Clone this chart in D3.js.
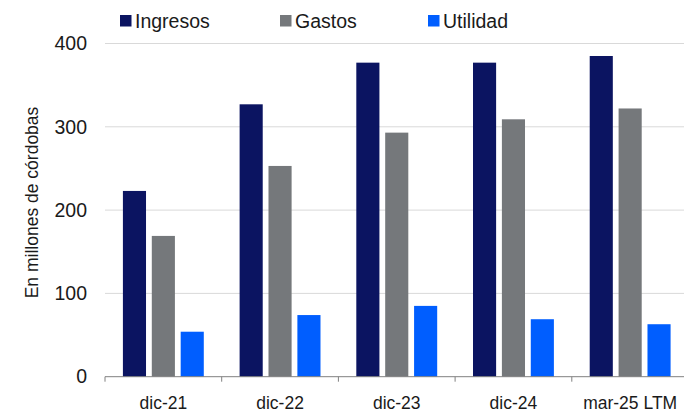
<!DOCTYPE html>
<html>
<head>
<meta charset="utf-8">
<script src="https://cdn.jsdelivr.net/npm/d3@7"></script>
<style>
  html, body { margin: 0; padding: 0; background: #fff; }
  svg { display: block; }
  text { font-family: "Liberation Sans", Arial, sans-serif; fill: #1a1a1a; }
</style>
</head>
<body>
<svg id="chart" width="684" height="413"></svg>
<script>
const categories = ["dic-21", "dic-22", "dic-23", "dic-24", "mar-25 LTM"];
const seriesNames = ["Ingresos", "Gastos", "Utilidad"];
const ingresos = [223, 327, 377, 377, 385];
const gastos = [169, 253, 293, 309, 322];
const utilidad = [54, 74, 85, 69, 63];
const yTicks = [0, 100, 200, 300, 400];
const colors = ["#0b1461", "#75787b", "#005eff"];

const seriesValues = [ingresos, gastos, utilidad];
const rows = categories.map((c, i) => ({
  cat: c,
  vals: seriesNames.map((s, j) => ({ key: s, value: seriesValues[j][i] }))
}));

const svg = d3.select("#chart");
const mLeft = 105, mRight = 688.5, mTop = 43.5, mBottom = 376.7;

const x0 = d3.scaleBand().domain(categories).range([mLeft, mRight]).padding(0);
const x1 = d3.scaleBand().domain(seriesNames).range([0, x0.bandwidth()])
  .paddingInner(0.2).paddingOuter(0.62);
const y = d3.scaleLinear().domain([0, 400]).range([mBottom, mTop]);
const color = d3.scaleOrdinal().domain(seriesNames).range(colors);

// gridlines
svg.append("g")
  .selectAll("line")
  .data(yTicks.filter(d => d > 0))
  .join("line")
  .attr("x1", mLeft).attr("x2", 684)
  .attr("y1", d => y(d)).attr("y2", d => y(d))
  .attr("stroke", "#d9d9d9").attr("stroke-width", 1);

// bars
svg.append("g")
  .selectAll("g")
  .data(rows)
  .join("g")
  .attr("transform", d => `translate(${x0(d.cat)},0)`)
  .selectAll("rect")
  .data(d => d.vals)
  .join("rect")
  .attr("x", d => x1(d.key))
  .attr("width", x1.bandwidth())
  .attr("y", d => y(d.value))
  .attr("height", d => y(0) - y(d.value))
  .attr("fill", d => color(d.key));

// y axis labels
const yAxis = d3.axisLeft(y).tickValues(yTicks).tickSize(0).tickPadding(18);
const gy = svg.append("g").attr("transform", `translate(${mLeft},0)`).call(yAxis);
gy.select(".domain").remove();
gy.selectAll("text").attr("font-size", 19.5).attr("fill", "#1a1a1a")
  .attr("font-family", "Liberation Sans, Arial, sans-serif");

// x axis
const xAxis = d3.axisBottom(x0).tickSize(0).tickPadding(20);
const gx = svg.append("g").attr("transform", `translate(0,${mBottom})`).call(xAxis);
gx.select(".domain").attr("stroke", "#808080").attr("d", `M${mLeft},0H684`);
gx.selectAll(".tick line").remove();
gx.selectAll("text").attr("font-size", 17.5).attr("fill", "#1a1a1a")
  .attr("font-family", "Liberation Sans, Arial, sans-serif");
// category separators
svg.append("g")
  .selectAll("line")
  .data(categories)
  .join("line")
  .attr("x1", d => x0(d)).attr("x2", d => x0(d))
  .attr("y1", mBottom).attr("y2", mBottom + 5)
  .attr("stroke", "#808080").attr("stroke-width", 1);

// y title
svg.append("text")
  .attr("transform", `translate(38,${(105 + 300) / 2}) rotate(-90)`)
  .attr("text-anchor", "middle")
  .attr("font-size", 17.5)
  .text("En millones de córdobas");

// legend
const legendX = [120, 280, 428];
const lg = svg.append("g")
  .selectAll("g")
  .data(seriesNames)
  .join("g")
  .attr("transform", (d, i) => `translate(${legendX[i]},15)`);
lg.append("rect").attr("width", 11.5).attr("height", 11.5).attr("fill", d => color(d));
lg.append("text").attr("x", 15).attr("y", 12.7).attr("font-size", 19.5)
  .attr("font-family", "Roboto, sans-serif")
  .text(d => d);
</script>
</body>
</html>
